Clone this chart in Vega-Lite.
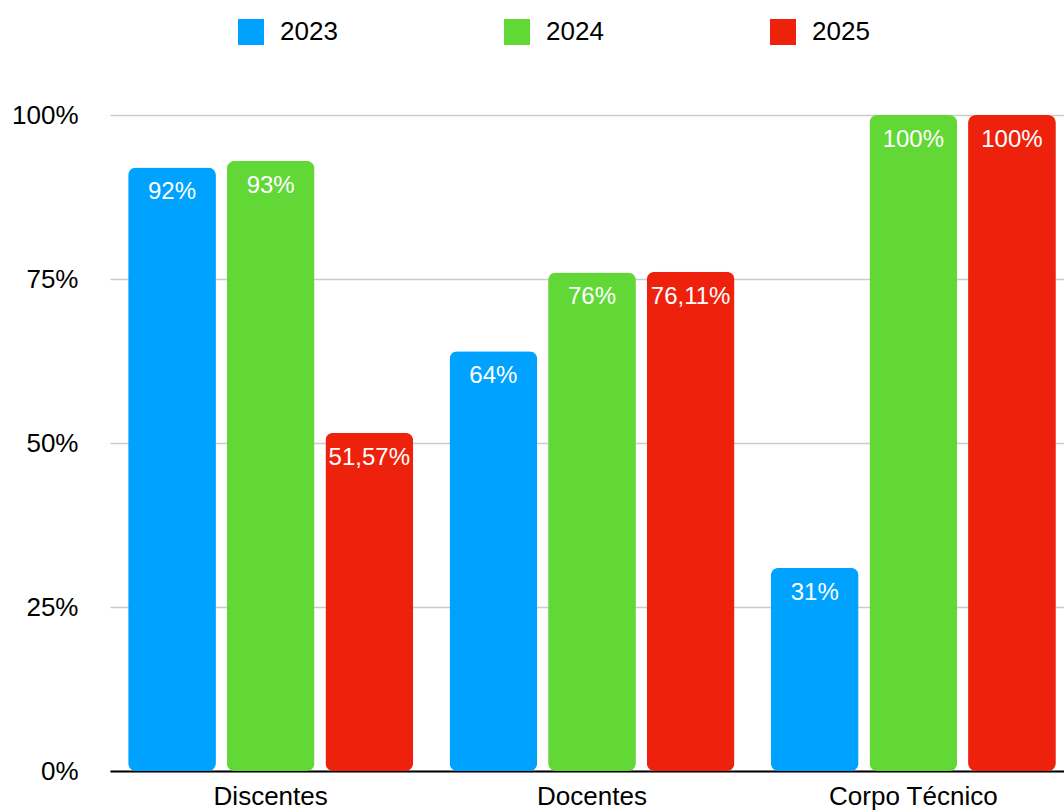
{
  "$schema": "https://vega.github.io/schema/vega-lite/v6.json",
  "width": 964,
  "height": 656,
  "autosize": "none",
  "padding": {"left": 110, "top": 115, "right": 0, "bottom": 41},
  "background": "white",
  "config": {"view": {"stroke": null}, "font": "Liberation Sans"},
  "data": {
    "values": [
      {"cat": "Discentes", "year": "2023", "value": 0.92, "label": "92%"},
      {"cat": "Discentes", "year": "2024", "value": 0.93, "label": "93%"},
      {"cat": "Discentes", "year": "2025", "value": 0.5157, "label": "51,57%"},
      {"cat": "Docentes", "year": "2023", "value": 0.64, "label": "64%"},
      {"cat": "Docentes", "year": "2024", "value": 0.76, "label": "76%"},
      {"cat": "Docentes", "year": "2025", "value": 0.7611, "label": "76,11%"},
      {"cat": "Corpo Técnico", "year": "2023", "value": 0.31, "label": "31%"},
      {"cat": "Corpo Técnico", "year": "2024", "value": 1.0, "label": "100%"},
      {"cat": "Corpo Técnico", "year": "2025", "value": 1.0, "label": "100%"}
    ]
  },
  "encoding": {
    "x": {
      "field": "cat", "type": "nominal",
      "sort": ["Discentes", "Docentes", "Corpo Técnico"],
      "scale": {"paddingInner": 0, "paddingOuter": 0},
      "axis": {"title": null, "labelAngle": 0, "labelFontSize": 26, "labelColor": "black", "domainColor": "black", "domainWidth": 2, "ticks": false, "labelPadding": 12}
    },
    "xOffset": {
      "field": "year", "type": "nominal",
      "scale": {"paddingInner": 0.11, "paddingOuter": 0.184}
    },
    "y": {
      "field": "value", "type": "quantitative",
      "scale": {"domain": [0, 1]},
      "axis": {"title": null, "format": ".0%", "values": [0, 0.25, 0.5, 0.75, 1], "labelFontSize": 26, "labelColor": "black", "domain": false, "ticks": false, "gridColor": "#cccccc", "gridWidth": 1.5, "labelPadding": 32}
    }
  },
  "layer": [
    {
      "mark": {"type": "bar", "cornerRadius": 8},
      "encoding": {
        "color": {
          "field": "year", "type": "nominal",
          "scale": {"domain": ["2023", "2024", "2025"], "range": ["#00A2FF", "#61D836", "#EE220C"]},
          "legend": {
            "orient": "none", "legendX": 128, "legendY": -96,
            "direction": "horizontal", "title": null,
            "symbolType": "square", "symbolSize": 676, "symbolStrokeWidth": 0, "symbolOpacity": 1,
            "labelFontSize": 26, "labelColor": "black", "labelOffset": 16, "columnPadding": 166, "padding": 0
          }
        }
      }
    },
    {
      "mark": {"type": "text", "color": "white", "fontSize": 24, "dy": 32, "baseline": "alphabetic"},
      "encoding": {"text": {"field": "label"}}
    }
  ]
}
